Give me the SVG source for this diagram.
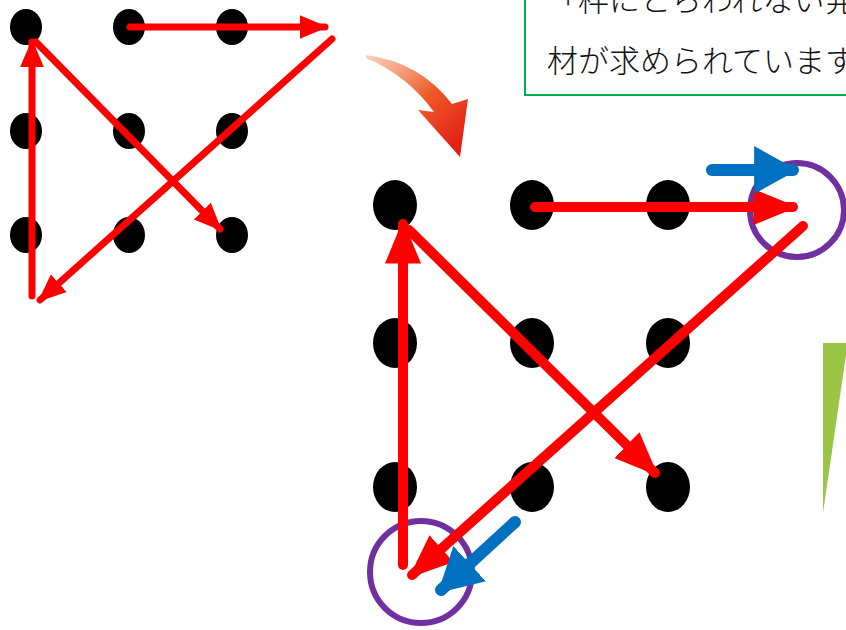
<svg xmlns="http://www.w3.org/2000/svg" width="846" height="630" viewBox="0 0 846 630">
<style>
.dot{fill:#000}
.red{stroke:#ff0000;fill:none;stroke-linecap:round}
.blue{stroke:#0070c0;fill:none;stroke-linecap:round}
.ring{fill:none;stroke:#7030a0;stroke-width:6}
.txt{font-family:"Noto Sans CJK JP","Noto Sans",sans-serif;font-size:31px;font-weight:300;fill:#111}
</style>
<defs>
<marker id="hs" viewBox="0 0 10 10" refX="9" refY="5" markerWidth="4" markerHeight="3.4" markerUnits="strokeWidth" orient="auto" preserveAspectRatio="none"><path d="M0,0 L10,5 L0,10 Z" fill="#ff0000"/></marker>
<marker id="hb" viewBox="0 0 10 10" refX="9" refY="5" markerWidth="4.4" markerHeight="3.6" markerUnits="strokeWidth" orient="auto" preserveAspectRatio="none"><path d="M0,0 L10,5 L0,10 Z" fill="#ff0000"/></marker>
<marker id="hbl" viewBox="0 0 10 10" refX="9" refY="5" markerWidth="3.6" markerHeight="4" markerUnits="strokeWidth" orient="auto" preserveAspectRatio="none"><path d="M0,0 L10,5 L0,10 Z" fill="#0070c0"/></marker>
<linearGradient id="cg" x1="0" y1="0" x2="1" y2="1">
<stop offset="0" stop-color="#f6b08a" stop-opacity="0.6"/>
<stop offset="0.5" stop-color="#ee5a2a"/>
<stop offset="1" stop-color="#e01010"/>
</linearGradient>
</defs>
<rect width="846" height="630" fill="#fff"/>
<g id="textbox">
<rect x="525" y="-10" width="340" height="105" fill="#fff" stroke="#00b050" stroke-width="2"/>
<text class="txt" x="547" y="11">「枠にとらわれない発</text>
<text class="txt" x="547" y="72">材が求められています</text>
</g>
<g id="small-grid">
<ellipse class="dot" cx="26" cy="27" rx="16" ry="18"/>
<ellipse class="dot" cx="129" cy="27" rx="16" ry="18"/>
<ellipse class="dot" cx="232" cy="27" rx="16" ry="18"/>
<ellipse class="dot" cx="26" cy="131" rx="16" ry="18"/>
<ellipse class="dot" cx="129" cy="131" rx="16" ry="18"/>
<ellipse class="dot" cx="232" cy="131" rx="16" ry="18"/>
<ellipse class="dot" cx="26" cy="235" rx="16" ry="18"/>
<ellipse class="dot" cx="129" cy="235" rx="16" ry="18"/>
<ellipse class="dot" cx="232" cy="235" rx="16" ry="18"/>
</g>
<g id="big-grid">
<ellipse class="dot" cx="395" cy="205" rx="22" ry="25"/>
<ellipse class="dot" cx="532" cy="205" rx="22" ry="25"/>
<ellipse class="dot" cx="668" cy="205" rx="22" ry="25"/>
<ellipse class="dot" cx="395" cy="343" rx="22" ry="25"/>
<ellipse class="dot" cx="532" cy="343" rx="22" ry="25"/>
<ellipse class="dot" cx="668" cy="343" rx="22" ry="25"/>
<ellipse class="dot" cx="395" cy="487" rx="22" ry="25"/>
<ellipse class="dot" cx="532" cy="487" rx="22" ry="25"/>
<ellipse class="dot" cx="668" cy="487" rx="22" ry="25"/>
</g>
<g id="rings">
<circle class="ring" cx="797" cy="210" r="47"/>
<circle class="ring" cx="421" cy="572" r="51"/>
</g>
<g id="connectors">
<line class="red" x1="130" y1="27" x2="325" y2="27" stroke-width="7" marker-end="url(#hs)"/>
<line class="red" x1="332" y1="39" x2="40" y2="300" stroke-width="7" marker-end="url(#hs)"/>
<line class="red" x1="32" y1="296" x2="32" y2="42" stroke-width="7" marker-end="url(#hs)"/>
<line class="red" x1="36" y1="42" x2="220" y2="229" stroke-width="7" marker-end="url(#hs)"/>
<line class="red" x1="535" y1="207" x2="793" y2="207" stroke-width="10" marker-end="url(#hb)"/>
<line class="red" x1="803" y1="226" x2="412" y2="575" stroke-width="10" marker-end="url(#hb)"/>
<line class="red" x1="403" y1="565" x2="403" y2="224" stroke-width="10" marker-end="url(#hb)"/>
<line class="red" x1="409" y1="230" x2="655" y2="473" stroke-width="10" marker-end="url(#hb)"/>
<line class="blue" x1="712" y1="170" x2="793" y2="170" stroke-width="12" marker-end="url(#hbl)"/>
<line class="blue" x1="515" y1="522" x2="441" y2="590" stroke-width="12" marker-end="url(#hbl)"/>
</g>
<g id="curved-arrow">
<path d="M366,55 Q420,62 452,104 L468,99 L460,157 L418,110 L434,112 Q408,76 366,58 Z" fill="url(#cg)"/>
</g>
<g id="green-shape">
<polygon points="823,343 846,343 846,355 823,513" fill="#9bc546"/>
</g>
</svg>
